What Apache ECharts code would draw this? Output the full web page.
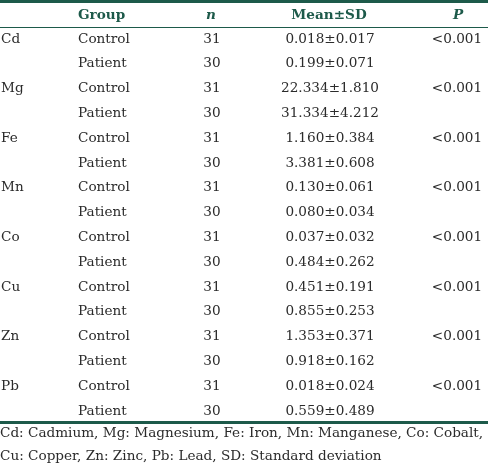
<!DOCTYPE html>
<html>
<head>
<meta charset="utf-8">
<script src="https://cdn.jsdelivr.net/npm/echarts@6/dist/echarts.min.js"></script>
<style>
html,body{margin:0;padding:0;background:#fff;}
#chart{width:488px;height:468px;}
</style>
</head>
<body>
<div id="chart"></div>
<script>
// ---- Data ----
const headers = ['Group', 'n', 'Mean±SD', 'P'];
const elements = ['Cd', 'Mg', 'Fe', 'Mn', 'Co', 'Cu', 'Zn', 'Pb'];
const groups = ['Control', 'Patient'];
const nValues = [31, 30];
const controlMeans = ['0.018', '22.334', '1.160', '0.130', '0.037', '0.451', '1.353', '0.018'];
const controlSDs   = ['0.017', '1.810', '0.384', '0.061', '0.032', '0.191', '0.371', '0.024'];
const patientMeans = ['0.199', '31.334', '3.381', '0.080', '0.484', '0.855', '0.918', '0.559'];
const patientSDs   = ['0.071', '4.212', '0.608', '0.034', '0.262', '0.253', '0.162', '0.489'];
const pValues = ['<0.001', '<0.001', '<0.001', '<0.001', '<0.001', '<0.001', '<0.001', '<0.001'];
const footnote = ['Cd: Cadmium, Mg: Magnesium, Fe: Iron, Mn: Manganese, Co: Cobalt,',
                  'Cu: Copper, Zn: Zinc, Pb: Lead, SD: Standard deviation'];

// ---- Build rows ----
const rows = [];
elements.forEach((el, i) => {
  rows.push({ el: el, group: groups[0], n: nValues[0], ms: controlMeans[i] + '±' + controlSDs[i], p: pValues[i] });
  rows.push({ el: '', group: groups[1], n: nValues[1], ms: patientMeans[i] + '±' + patientSDs[i], p: '' });
});
const rowIdx = rows.map((r, i) => i);

const FONT = 'DejaVu Serif';
const TXT = '#2b2b2b';
const GREEN = '#1d5a4a';
const FS = 13.6;

const chart = echarts.init(document.getElementById('chart'), null, { renderer: 'canvas' });
const W = 488, H = 468;
const gridTop = 26.6, gridBottom = 44.6;

chart.setOption({
  animation: false,
  backgroundColor: '#fff',
  grid: { left: 0, right: 0, top: gridTop, bottom: gridBottom },
  xAxis: { type: 'value', min: 0, max: W, show: false },
  yAxis: { type: 'category', data: rowIdx, inverse: true, show: false },
  series: [{
    type: 'custom',
    data: rowIdx.map(i => [0, i]),
    encode: { x: 0, y: 1 },
    renderItem: function (params, api) {
      const r = rows[api.value(1)];
      const y = api.coord([0, api.value(1)])[1];
      const base = { fill: TXT, fontSize: FS, fontFamily: FONT, verticalAlign: 'middle' };
      return {
        type: 'group',
        children: [
          { type: 'text', style: Object.assign({}, base, { text: r.el, x: 1, y: y, align: 'left' }) },
          { type: 'text', style: Object.assign({}, base, { text: r.group, x: 78, y: y, align: 'left' }) },
          { type: 'text', style: Object.assign({}, base, { text: String(r.n), x: 212, y: y, align: 'center' }) },
          { type: 'text', style: Object.assign({}, base, { text: r.ms, x: 330, y: y, align: 'center' }) },
          { type: 'text', style: Object.assign({}, base, { text: r.p, x: 457, y: y, align: 'center' }) }
        ]
      };
    }
  }],
  graphic: [
    { type: 'rect', shape: { x: 0, y: 0, width: W, height: 3 }, style: { fill: GREEN } },
    { type: 'rect', shape: { x: 0, y: 27, width: W, height: 1 }, style: { fill: GREEN } },
    { type: 'rect', shape: { x: 0, y: 421, width: W, height: 3 }, style: { fill: GREEN } },
    { type: 'text', style: { text: headers[0], x: 78, y: 15, align: 'left', verticalAlign: 'middle', fill: GREEN, fontSize: FS, fontWeight: 'bold', fontFamily: FONT } },
    { type: 'text', style: { text: headers[1], x: 211, y: 15, align: 'center', verticalAlign: 'middle', fill: GREEN, fontSize: FS, fontWeight: 'bold', fontStyle: 'italic', fontFamily: FONT } },
    { type: 'text', style: { text: headers[2], x: 329, y: 15, align: 'center', verticalAlign: 'middle', fill: GREEN, fontSize: FS, fontWeight: 'bold', fontFamily: FONT } },
    { type: 'text', style: { text: headers[3], x: 458, y: 15, align: 'center', verticalAlign: 'middle', fill: GREEN, fontSize: FS, fontWeight: 'bold', fontStyle: 'italic', fontFamily: FONT } },
    { type: 'text', style: { text: footnote[0], x: 0, y: 433, align: 'left', verticalAlign: 'middle', fill: TXT, fontSize: FS, fontFamily: FONT } },
    { type: 'text', style: { text: footnote[1], x: 0, y: 456, align: 'left', verticalAlign: 'middle', fill: TXT, fontSize: FS, fontFamily: FONT } }
  ]
});
</script>
</body>
</html>
